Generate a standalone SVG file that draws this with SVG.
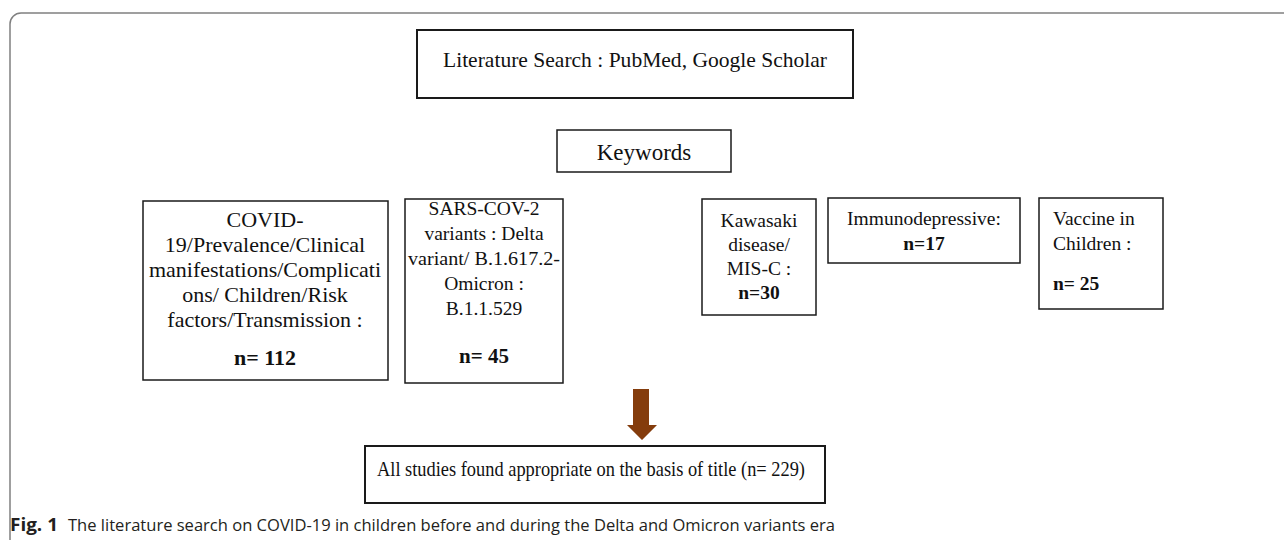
<svg xmlns="http://www.w3.org/2000/svg" width="1284" height="540" viewBox="0 0 1284 540">
<style>
.box{fill:#fff;stroke:#1a1a1a;stroke-width:1.5}
.thick{stroke-width:2}
.t{font-family:"Liberation Serif","Times New Roman",serif;fill:#111}
.b{font-weight:bold}
.cap{font-family:"Open Sans","Liberation Sans",sans-serif;fill:#231f20}
</style>
<rect width="1284" height="540" fill="#fff"/>
<path d="M10,540 V24 A11,11 0 0 1 21,13 H1284" fill="none" stroke="#808080" stroke-width="1.5"/>

<g id="node-search">
<rect class="box thick" x="417" y="30" width="436" height="68"/>
<text class="t" x="635" y="67" font-size="21.5" text-anchor="middle" textLength="384" lengthAdjust="spacingAndGlyphs">Literature Search : PubMed, Google Scholar</text>
</g>

<g id="node-keywords">
<rect class="box" x="557" y="130" width="174" height="42"/>
<text class="t" x="644" y="160" font-size="23" text-anchor="middle">Keywords</text>
</g>

<g id="node-covid" class="t" font-size="22" text-anchor="middle">
<rect class="box" x="143" y="201" width="245" height="179"/>
<text x="265" y="227">COVID-</text>
<text x="265" y="252">19/Prevalence/Clinical</text>
<text x="265" y="277" textLength="232" lengthAdjust="spacingAndGlyphs">manifestations/Complicati</text>
<text x="265" y="302">ons/ Children/Risk</text>
<text x="265" y="327">factors/Transmission :</text>
<text class="b" x="265" y="365">n= 112</text>
</g>

<g id="node-variants" class="t" font-size="19.5" text-anchor="middle">
<rect class="box" x="405" y="199" width="158" height="184"/>
<text x="484" y="215">SARS-COV-2</text>
<text x="484" y="240">variants : Delta</text>
<text x="484" y="265" textLength="152" lengthAdjust="spacingAndGlyphs">variant/ B.1.617.2-</text>
<text x="484" y="290">Omicron :</text>
<text x="484" y="315">B.1.1.529</text>
<text class="b" x="484" y="363" font-size="21">n= 45</text>
</g>

<g id="node-kawasaki" class="t" font-size="19.5" text-anchor="middle">
<rect class="box" x="702" y="199" width="114" height="116"/>
<text x="759" y="227">Kawasaki</text>
<text x="759" y="251">disease/</text>
<text x="759" y="275">MIS-C :</text>
<text class="b" x="759" y="299">n=30</text>
</g>

<g id="node-immuno" class="t" font-size="19.5" text-anchor="middle">
<rect class="box" x="828" y="198" width="192" height="65"/>
<text x="924" y="225">Immunodepressive:</text>
<text class="b" x="924" y="250">n=17</text>
</g>

<g id="node-vaccine" class="t" font-size="19.5">
<rect class="box" x="1039" y="198" width="124" height="111"/>
<text x="1053" y="225">Vaccine in</text>
<text x="1053" y="250">Children :</text>
<text class="b" x="1053" y="290">n= 25</text>
</g>

<g id="connectors">
<polygon points="633,389 649,389 649,425 657,425 642,440 627,425 633,425" fill="#843c0c"/>
</g>

<g id="node-result">
<rect class="box thick" x="365" y="446" width="460" height="57"/>
<text class="t" x="591" y="476" font-size="21" text-anchor="middle" textLength="428" lengthAdjust="spacingAndGlyphs">All studies found appropriate on the basis of title (n= 229)</text>
</g>

<g id="caption">
<text class="cap b" x="10" y="531" font-size="17" textLength="48" lengthAdjust="spacingAndGlyphs">Fig. 1</text>
<text class="cap" x="68" y="531" font-size="16.5" textLength="767" lengthAdjust="spacingAndGlyphs">The literature search on COVID-19 in children before and during the Delta and Omicron variants era</text>
</g>
</svg>
